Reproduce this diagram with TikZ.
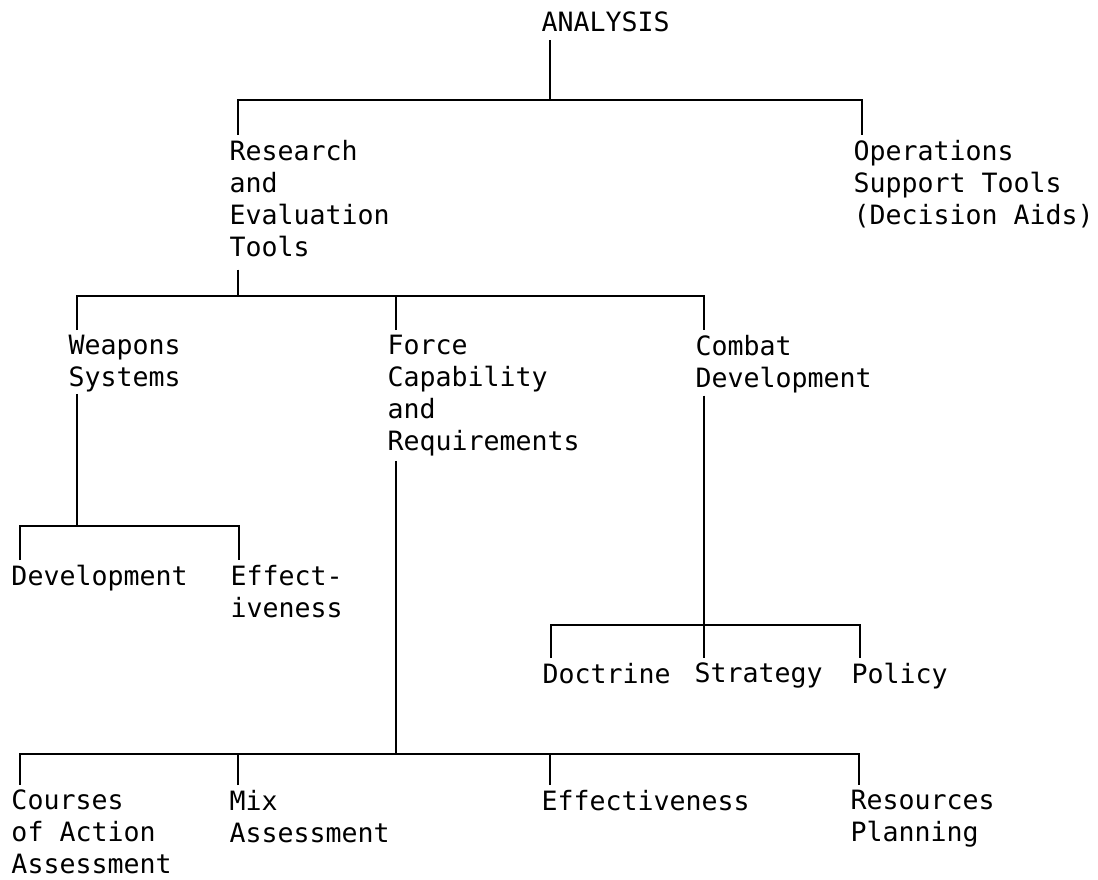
\documentclass[tikz,border=0pt]{standalone}
\usepackage{fontspec}
\setmonofont{DejaVu Sans Mono}
\usetikzlibrary{calc}
\begin{document}
\begin{tikzpicture}[x=1pt,y=-1pt,
  lbl/.style={anchor=north west, inner sep=0pt, outer sep=0pt, align=left,
    font=\ttfamily\fontsize{26.6}{32}\selectfont},
  conn/.style={line width=2.3pt}]
\useasboundingbox[fill=white] (0,0) rectangle (1098,880);

% bar levels
\coordinate (y1) at (0,100);
\coordinate (y2) at (0,296);
\coordinate (y3) at (0,526);
\coordinate (y4) at (0,625);
\coordinate (y5) at (0,754);

% nodes
\node[lbl] (ana)  at (541.5,12)  {ANALYSIS};
\node[lbl] (res)  at (229.5,140) {Research\\and\\Evaluation\\Tools};
\node[lbl] (ops)  at (853.5,140) {Operations\\Support Tools\\(Decision Aids)};
\node[lbl] (wea)  at (68.5,335)  {Weapons\\Systems};
\node[lbl] (for)  at (387.5,335) {Force\\Capability\\and\\Requirements};
\node[lbl] (com)  at (695.5,335) {Combat\\Development};
\node[lbl] (dev)  at (11.5,565)  {Development};
\node[lbl] (eff)  at (230.5,565) {Effect-\\iveness};
\node[lbl] (doc)  at (542.5,663) {Doctrine};
\node[lbl] (str)  at (694.5,663) {Strategy};
\node[lbl] (pol)  at (851.5,663) {Policy};
\node[lbl] (cou)  at (11.5,790)  {Courses\\of Action\\Assessment};
\node[lbl] (mix)  at (229.5,790) {Mix\\Assessment};
\node[lbl] (efb)  at (541.5,790) {Effectiveness};
\node[lbl] (rso)  at (850.5,790) {Resources\\Planning};

% attach points (top)
\foreach \n in {res,ops,wea,for,com,dev,eff,doc,str,pol,cou,mix,efb,rso}
  \coordinate (\n T) at ($(\n.north west)+(8.5,-5)$);
% attach points (bottom)
\coordinate (anaB) at ($(ana.south west)+(8.5,8)$);
\coordinate (resB) at ($(res.south west)+(8.5,13)$);
\coordinate (weaB) at ($(wea.south west)+(8.5,2)$);
\coordinate (forB) at ($(for.south west)+(8.5,5)$);
\coordinate (comB) at ($(com.south west)+(8.5,3)$);

% connectors
\draw[conn] (anaB) -- (anaB |- y1);
\draw[conn] (resT) |- (opsT |- y1) -- (opsT);

\draw[conn] (resB) -- (resB |- y2);
\draw[conn] (weaT) |- (comT |- y2) -- (comT);
\draw[conn] (forT) -- (forT |- y2);

\draw[conn] (weaB) -- (weaB |- y3);
\draw[conn] (devT) |- (effT |- y3) -- (effT);

\draw[conn] (comB) -- (comB |- strT);
\draw[conn] (docT) |- (polT |- y4) -- (polT);

\draw[conn] (forB) -- (forB |- y5);
\draw[conn] (couT) |- (rsoT |- y5) -- (rsoT);
\draw[conn] (mixT) -- (mixT |- y5);
\draw[conn] (efbT) -- (efbT |- y5);
\end{tikzpicture}
\end{document}
